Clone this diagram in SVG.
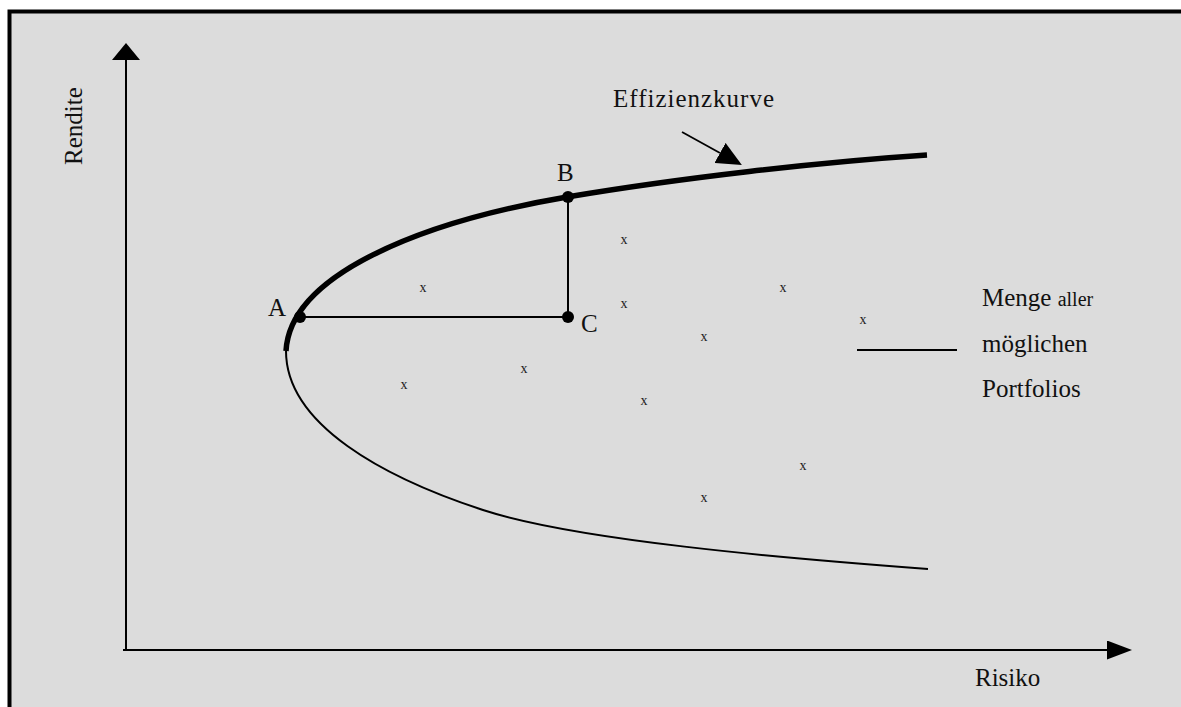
<svg xmlns="http://www.w3.org/2000/svg" width="1181" height="707" viewBox="0 0 1181 707">
<style>
.t{font-family:"Liberation Serif","Times New Roman",serif;fill:#111;font-size:25px}
.x{font-family:"Liberation Serif","Times New Roman",serif;fill:#222;font-size:14px;text-anchor:middle}
.ln{stroke:#000;stroke-width:2;fill:none}
.dot{fill:#000}
</style>
<defs>
<marker id="ay" markerUnits="userSpaceOnUse" viewBox="0 0 17 28" refX="0" refY="14" markerWidth="17" markerHeight="28" orient="auto"><path d="M0,0 L17,14 L0,28 z" fill="#000"/></marker>
<marker id="ax" markerUnits="userSpaceOnUse" viewBox="0 0 25 19" refX="0" refY="9.5" markerWidth="25" markerHeight="19" orient="auto"><path d="M0,0 L25,9.5 L0,19 z" fill="#000"/></marker>
<marker id="ae" markerUnits="userSpaceOnUse" viewBox="0 0 25 23" refX="0" refY="11.5" markerWidth="25" markerHeight="23" orient="auto"><path d="M0,0 L25,11.5 L0,23 z" fill="#000"/></marker>
</defs>
<rect x="0" y="0" width="1181" height="707" fill="#fff"/>
<rect x="9.5" y="11.5" width="1200" height="720" fill="#dcdcdc" stroke="#000" stroke-width="4"/>

<g id="connectors">
<path class="ln" d="M126,651 L126,60" marker-end="url(#ay)"/>
<path class="ln" d="M123,650 L1107,650" marker-end="url(#ax)"/>
<path class="ln" d="M300,317 L568,317"/>
<path class="ln" d="M568,197 L568,317"/>
<path d="M682,132 L720,153" stroke="#000" stroke-width="1.8" fill="none" marker-end="url(#ae)"/>
<path class="ln" d="M857,350 L957,350" stroke-width="1.6"/>
</g>

<g id="curves">
<path id="effizienzkurve-line" d="M286,351 C290,275 420,222 567,197 C680,178 820,162 927,155" stroke="#000" stroke-width="5.5" fill="none"/>
<path id="lower-curve" d="M286,351 C286,425 385,478 483,510 C575,540 780,558 928,569" stroke="#000" stroke-width="2" fill="none"/>
</g>

<g id="point-A"><circle class="dot" cx="300" cy="317" r="6"/><text class="t" x="268" y="316">A</text></g>
<g id="point-B"><circle class="dot" cx="568" cy="197" r="6"/><text class="t" x="557" y="181">B</text></g>
<g id="point-C"><circle class="dot" cx="568" cy="317" r="6"/><text class="t" x="581" y="332">C</text></g>

<g id="label-rendite"><text class="t" transform="translate(82,165) rotate(-90)">Rendite</text></g>
<g id="label-risiko"><text class="t" x="975" y="686" font-size="26">Risiko</text></g>
<g id="label-effizienzkurve"><text class="t" x="613" y="107" font-size="26" textLength="161">Effizienzkurve</text></g>
<g id="label-menge"><text class="t" x="982" y="306" font-size="26">Menge <tspan font-size="20">aller</tspan></text>
<text class="t" x="982" y="352" font-size="26">möglichen</text>
<text class="t" x="982" y="397" font-size="26">Portfolios</text></g>

<g id="portfolios">
<text class="x" x="423" y="292">x</text>
<text class="x" x="624" y="244">x</text>
<text class="x" x="624" y="308">x</text>
<text class="x" x="783" y="292">x</text>
<text class="x" x="863" y="324">x</text>
<text class="x" x="704" y="341">x</text>
<text class="x" x="524" y="373">x</text>
<text class="x" x="404" y="389">x</text>
<text class="x" x="644" y="405">x</text>
<text class="x" x="803" y="470">x</text>
<text class="x" x="704" y="502">x</text>
</g>
</svg>
